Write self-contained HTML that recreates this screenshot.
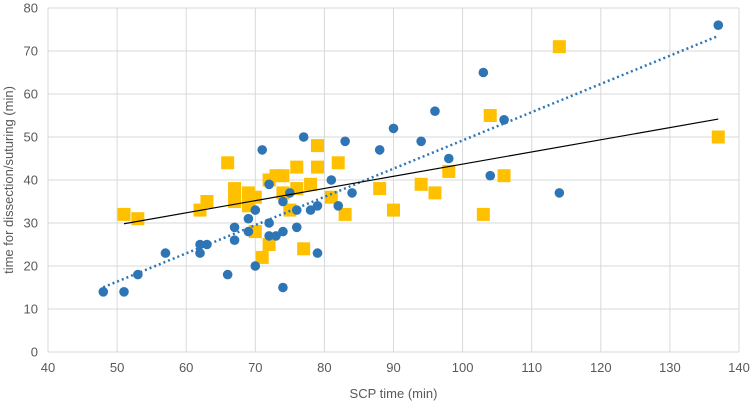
<!DOCTYPE html>
<html><head><meta charset="utf-8"><style>
body{margin:0;background:#fff;font-family:"Liberation Sans",sans-serif;}
svg text{font-family:"Liberation Sans",sans-serif;fill:#595959;}
</style></head><body>
<svg id="chart" width="753" height="410"></svg>
<script>
const xTicks=[40,50,60,70,80,90,100,110,120,130,140];
const yTicks=[0,10,20,30,40,50,60,70,80];
const blueX=[48,51,53,57,62,62,63,66,67,67,69,69,70,70,71,72,72,72,73,74,74,74,75,76,76,77,78,79,79,81,82,83,84,88,90,94,96,98,103,104,106,114,137];
const blueY=[14,14,18,23,25,23,25,18,29,26,31,28,33,20,47,39,30,27,27,35,28,15,37,33,29,50,33,34,23,40,34,49,37,47,52,49,56,45,65,41,54,37,76];
const yellowX=[51,53,62,63,66,67,67,69,69,70,70,71,72,72,73,74,74,75,76,76,77,78,79,79,81,82,83,88,90,94,96,98,103,104,106,114,137];
const yellowY=[32,31,33,35,44,38,35,37,34,36,28,22,40,25,41,41,37,33,43,38,24,39,48,43,36,44,32,38,33,39,37,42,32,55,41,71,50];
const L=48,R=739,T=8,B=352;
const sx=v=>L+(v-40)/100*(R-L), sy=v=>B-v/80*(B-T);
const svg=document.getElementById('chart');const NS='http://www.w3.org/2000/svg';
function mk(t,a){const e=document.createElementNS(NS,t);for(const k in a)e.setAttribute(k,a[k]);svg.appendChild(e);return e;}
xTicks.forEach(v=>{const l=mk('line',{x1:sx(v),x2:sx(v),y1:T,y2:B,stroke:'#d9d9d9'});


const t=mk('text',{x:sx(v),y:372,'text-anchor':'middle','font-size':13});t.textContent=v;

});
yTicks.forEach(v=>{const l=mk('line',{x1:L,x2:R,y1:sy(v),y2:sy(v),stroke:'#d9d9d9'});


const t=mk('text',{x:38,y:sy(v)+4.5,'text-anchor':'end','font-size':13});t.textContent=v;

});
function reg(X,Y){const n=X.length;let mx=0,my=0;for(let i=0;i<n;i++){mx+=X[i];my+=Y[i];}mx/=n;my/=n;let a=0,b=0;for(let i=0;i<n;i++){a+=(X[i]-mx)*(Y[i]-my);b+=(X[i]-mx)**2;}const m=a/b;return [m,my-m*mx];}
yellowX.forEach((x,i)=>{const s=mk('rect',{x:sx(x)-6.5,y:sy(yellowY[i])-6.5,width:13,height:13,fill:'#ffc000'});

});
blueX.forEach((x,i)=>{const c=mk('circle',{cx:sx(x),cy:sy(blueY[i]),r:4.8,fill:'#2e75b6'});

});
let [m1,b1]=reg(blueX,blueY);let x0=Math.min(...blueX),x1=Math.max(...blueX);
const tb=mk('line',{x1:sx(x0),y1:sy(m1*x0+b1),x2:sx(x1),y2:sy(m1*x1+b1),stroke:'#2e75b6','stroke-width':2.5,'stroke-dasharray':'2 3'});


let [m2,b2]=reg(yellowX,yellowY);x0=Math.min(...yellowX);x1=Math.max(...yellowX);
const ty=mk('line',{x1:sx(x0),y1:sy(m2*x0+b2),x2:sx(x1),y2:sy(m2*x1+b2),stroke:'#000','stroke-width':1.2});


const xt=mk('text',{x:(L+R)/2,y:398,'text-anchor':'middle','font-size':13});xt.textContent='SCP time (min)';


const yt=mk('text',{x:0,y:0,'text-anchor':'middle','font-size':13,transform:`translate(13,${(T+B)/2}) rotate(-90)`});yt.textContent='time for dissection/suturing (min)';


</script>
</body></html>
